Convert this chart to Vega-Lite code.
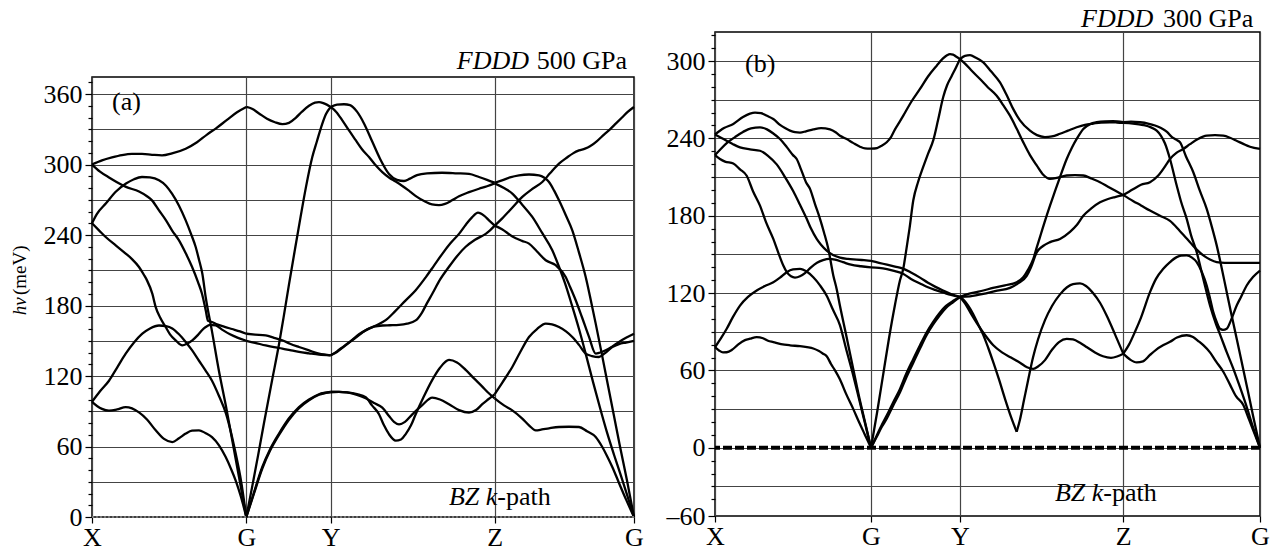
{
"$schema": "https://vega.github.io/schema/vega-lite/v6.json",
"padding": {"left": 10, "top": 5, "right": 5, "bottom": 5},
"config": {
  "view": {"stroke": "black", "strokeWidth": 1.5},
  "font": "Liberation Serif",
  "axis": {"labelFont": "Liberation Serif", "labelFontSize": 26, "labelColor": "black", "tickColor": "black", "tickWidth": 1.2, "gridColor": "#444", "gridWidth": 1.2, "domain": false, "labelOverlap": false, "labelBound": false, "labelFlush": false},
  "text": {"font": "Liberation Serif", "fontSize": 26, "color": "black"}
},
"datasets": {
"a": [
{"s":"a1","k":0,"e":300},{"s":"a1","k":10,"e":303.5},{"s":"a1","k":20,"e":306},{"s":"a1","k":30,"e":308},{"s":"a1","k":40,"e":309},{"s":"a1","k":50,"e":309},{"s":"a1","k":60,"e":308.3},{"s":"a1","k":70,"e":307.8},{"s":"a1","k":80,"e":309.5},{"s":"a1","k":93.7,"e":313.5},{"s":"a1","k":105,"e":319},{"s":"a1","k":115,"e":325.5},{"s":"a1","k":123.7,"e":330.6},{"s":"a1","k":135,"e":338},{"s":"a1","k":145,"e":344.5},{"s":"a1","k":154.3,"e":349},
{"s":"a2","k":0,"e":300},{"s":"a2","k":8,"e":294},{"s":"a2","k":17,"e":289},{"s":"a2","k":25,"e":285},{"s":"a2","k":34,"e":281},{"s":"a2","k":47,"e":277},{"s":"a2","k":55,"e":273},{"s":"a2","k":60,"e":269.5},{"s":"a2","k":67,"e":261},{"s":"a2","k":74,"e":252.5},{"s":"a2","k":80,"e":244},{"s":"a2","k":87,"e":235.4},{"s":"a2","k":94,"e":224},{"s":"a2","k":100,"e":213},{"s":"a2","k":106,"e":200},{"s":"a2","k":110,"e":190},{"s":"a2","k":113.7,"e":176},{"s":"a2","k":116,"e":167},{"s":"a2","k":120,"e":166},{"s":"a2","k":125,"e":164},{"s":"a2","k":132,"e":162},{"s":"a2","k":140,"e":160},{"s":"a2","k":148,"e":158},{"s":"a2","k":154.3,"e":156},
{"s":"a3","k":0,"e":250},{"s":"a3","k":5,"e":258},{"s":"a3","k":14,"e":267},{"s":"a3","k":24,"e":277},{"s":"a3","k":34,"e":283.8},{"s":"a3","k":42,"e":287.5},{"s":"a3","k":50,"e":289.4},{"s":"a3","k":58,"e":289},{"s":"a3","k":67,"e":286.6},{"s":"a3","k":74,"e":282},{"s":"a3","k":80,"e":275.2},{"s":"a3","k":87,"e":265},{"s":"a3","k":93.7,"e":252.5},{"s":"a3","k":99,"e":241},{"s":"a3","k":103.7,"e":229.8},{"s":"a3","k":107,"e":219},{"s":"a3","k":110.3,"e":207.2},{"s":"a3","k":113.7,"e":187},{"s":"a3","k":120,"e":158},{"s":"a3","k":127,"e":124},{"s":"a3","k":134,"e":94},{"s":"a3","k":140.3,"e":65},{"s":"a3","k":147,"e":34},{"s":"a3","k":154.3,"e":0},
{"s":"a4","k":0,"e":250},{"s":"a4","k":7,"e":244},{"s":"a4","k":13.7,"e":238.3},{"s":"a4","k":24,"e":231},{"s":"a4","k":33.7,"e":224.2},{"s":"a4","k":40,"e":219.5},{"s":"a4","k":47,"e":212.8},{"s":"a4","k":52,"e":206},{"s":"a4","k":55,"e":201.4},{"s":"a4","k":60.3,"e":190.1},{"s":"a4","k":63.7,"e":178.7},{"s":"a4","k":68,"e":170},{"s":"a4","k":73.7,"e":161.7},{"s":"a4","k":78,"e":155.5},{"s":"a4","k":83.7,"e":150.4},{"s":"a4","k":90.3,"e":146.1},{"s":"a4","k":95,"e":147.5},{"s":"a4","k":100.3,"e":150.4},{"s":"a4","k":106,"e":155},{"s":"a4","k":110,"e":159},{"s":"a4","k":113.7,"e":161.7},{"s":"a4","k":118,"e":163.5},{"s":"a4","k":123.7,"e":163},{"s":"a4","k":130,"e":159.5},{"s":"a4","k":138,"e":155.5},{"s":"a4","k":146,"e":152.5},{"s":"a4","k":154.3,"e":150},
{"s":"a5","k":0,"e":98},{"s":"a5","k":8,"e":107},{"s":"a5","k":17,"e":116},{"s":"a5","k":25,"e":127},{"s":"a5","k":33.7,"e":139},{"s":"a5","k":42,"e":148.5},{"s":"a5","k":50.3,"e":156},{"s":"a5","k":58,"e":160.5},{"s":"a5","k":67,"e":163},{"s":"a5","k":74,"e":162.5},{"s":"a5","k":80.3,"e":160.5},{"s":"a5","k":87,"e":155.5},{"s":"a5","k":93.7,"e":149},{"s":"a5","k":100,"e":142},{"s":"a5","k":107,"e":133},{"s":"a5","k":113.3,"e":125},{"s":"a5","k":120,"e":116},{"s":"a5","k":127,"e":103},{"s":"a5","k":134,"e":88},{"s":"a5","k":139,"e":72},{"s":"a5","k":143.7,"e":54},{"s":"a5","k":149,"e":31},{"s":"a5","k":154.3,"e":0},
{"s":"a6","k":0,"e":98},{"s":"a6","k":5,"e":94.5},{"s":"a6","k":10,"e":92},{"s":"a6","k":17,"e":90.5},{"s":"a6","k":25,"e":91.5},{"s":"a6","k":33.7,"e":93.6},{"s":"a6","k":40,"e":92.5},{"s":"a6","k":47,"e":89},{"s":"a6","k":55,"e":83},{"s":"a6","k":63.7,"e":73.8},{"s":"a6","k":72,"e":66.5},{"s":"a6","k":80.3,"e":63.8},{"s":"a6","k":87,"e":67},{"s":"a6","k":93.7,"e":71},{"s":"a6","k":100,"e":73.5},{"s":"a6","k":107,"e":73.8},{"s":"a6","k":113.3,"e":71.5},{"s":"a6","k":120,"e":68},{"s":"a6","k":127,"e":61},{"s":"a6","k":133.7,"e":51},{"s":"a6","k":139,"e":41},{"s":"a6","k":143.7,"e":31},{"s":"a6","k":149,"e":17},{"s":"a6","k":154.3,"e":0},
{"s":"a7","k":154.3,"e":349},{"s":"a7","k":160,"e":347.5},{"s":"a7","k":167,"e":343.5},{"s":"a7","k":175,"e":339},{"s":"a7","k":183,"e":336},{"s":"a7","k":190.3,"e":334.4},{"s":"a7","k":197,"e":335.5},{"s":"a7","k":204,"e":340},{"s":"a7","k":210,"e":345},{"s":"a7","k":217,"e":350},{"s":"a7","k":223,"e":352.7},{"s":"a7","k":227,"e":353.2},{"s":"a7","k":232,"e":352},{"s":"a7","k":238.7,"e":349},
{"s":"a8","k":154.3,"e":0},{"s":"a8","k":160,"e":25},{"s":"a8","k":166,"e":52},{"s":"a8","k":172,"e":80},{"s":"a8","k":180,"e":116},{"s":"a8","k":187,"e":147},{"s":"a8","k":192,"e":172},{"s":"a8","k":197,"e":198},{"s":"a8","k":203,"e":228},{"s":"a8","k":208.5,"e":255},{"s":"a8","k":214,"e":281},{"s":"a8","k":220.3,"e":306.4},{"s":"a8","k":225,"e":320},{"s":"a8","k":230,"e":334},{"s":"a8","k":234,"e":343},{"s":"a8","k":238.7,"e":349},
{"s":"a9","k":154.3,"e":156},{"s":"a9","k":163,"e":155.3},{"s":"a9","k":173.7,"e":154.6},{"s":"a9","k":182,"e":152.5},{"s":"a9","k":190.3,"e":150.4},{"s":"a9","k":198,"e":147.5},{"s":"a9","k":207,"e":144.7},{"s":"a9","k":217,"e":141.8},{"s":"a9","k":227,"e":139},{"s":"a9","k":238.7,"e":137.6},
{"s":"a10","k":154.3,"e":150},{"s":"a10","k":163,"e":148.3},{"s":"a10","k":173.7,"e":146},{"s":"a10","k":182,"e":144.5},{"s":"a10","k":190.3,"e":143.3},{"s":"a10","k":198,"e":142},{"s":"a10","k":207,"e":140.5},{"s":"a10","k":217,"e":139.3},{"s":"a10","k":227,"e":138.2},{"s":"a10","k":238.7,"e":137.6},
{"s":"a11","k":154.3,"e":0},{"s":"a11","k":162,"e":21},{"s":"a11","k":170.3,"e":42.6},{"s":"a11","k":178,"e":57.5},{"s":"a11","k":187,"e":71},{"s":"a11","k":197,"e":84},{"s":"a11","k":207,"e":93.6},{"s":"a11","k":217,"e":100},{"s":"a11","k":227,"e":104.5},{"s":"a11","k":238.7,"e":106.4},
{"s":"a12","k":154.3,"e":0},{"s":"a12","k":162,"e":20},{"s":"a12","k":170.3,"e":41.3},{"s":"a12","k":178,"e":56.3},{"s":"a12","k":187,"e":69.8},{"s":"a12","k":197,"e":82.8},{"s":"a12","k":207,"e":92.6},{"s":"a12","k":217,"e":99.3},{"s":"a12","k":227,"e":104},{"s":"a12","k":238.7,"e":106.4},
{"s":"a13","k":238.7,"e":349},{"s":"a13","k":245,"e":351},{"s":"a13","k":252,"e":351.3},{"s":"a13","k":258,"e":350.5},{"s":"a13","k":265,"e":345},{"s":"a13","k":272,"e":335},{"s":"a13","k":280,"e":320},{"s":"a13","k":288,"e":305},{"s":"a13","k":297,"e":292},{"s":"a13","k":305,"e":287},{"s":"a13","k":312,"e":286},{"s":"a13","k":318,"e":288},{"s":"a13","k":325,"e":291},{"s":"a13","k":335,"e":292.5},{"s":"a13","k":350,"e":293},{"s":"a13","k":365,"e":292.5},{"s":"a13","k":377,"e":292},{"s":"a13","k":387,"e":289.4},{"s":"a13","k":395,"e":287},{"s":"a13","k":402.7,"e":284.5},
{"s":"a14","k":238.7,"e":349},{"s":"a14","k":244,"e":345},{"s":"a14","k":250.3,"e":337.6},{"s":"a14","k":257,"e":329},{"s":"a14","k":263.7,"e":320.7},{"s":"a14","k":270,"e":313},{"s":"a14","k":277,"e":306.4},{"s":"a14","k":283,"e":300},{"s":"a14","k":290.3,"e":293.6},{"s":"a14","k":297,"e":289},{"s":"a14","k":303.7,"e":285.5},{"s":"a14","k":310,"e":282},{"s":"a14","k":318,"e":277},{"s":"a14","k":325,"e":272.5},{"s":"a14","k":333,"e":268.5},{"s":"a14","k":340,"e":266},{"s":"a14","k":347,"e":265.4},{"s":"a14","k":353,"e":266.5},{"s":"a14","k":360,"e":269.5},{"s":"a14","k":367,"e":273},{"s":"a14","k":377,"e":276.5},{"s":"a14","k":387,"e":279.4},{"s":"a14","k":395,"e":281.5},{"s":"a14","k":402.7,"e":284},
{"s":"a15","k":238.7,"e":137.6},{"s":"a15","k":245,"e":141},{"s":"a15","k":252,"e":145.5},{"s":"a15","k":262,"e":151.5},{"s":"a15","k":273.7,"e":158.9},{"s":"a15","k":284,"e":163},{"s":"a15","k":293.7,"e":167.5},{"s":"a15","k":303,"e":175},{"s":"a15","k":313.7,"e":184.4},{"s":"a15","k":323.7,"e":193},{"s":"a15","k":333.7,"e":204},{"s":"a15","k":342,"e":214},{"s":"a15","k":350.3,"e":224},{"s":"a15","k":358,"e":232.5},{"s":"a15","k":367,"e":241},{"s":"a15","k":374,"e":249},{"s":"a15","k":380,"e":255},{"s":"a15","k":386,"e":259},{"s":"a15","k":392,"e":256.5},{"s":"a15","k":397,"e":252.5},{"s":"a15","k":402.7,"e":248},
{"s":"a16","k":238.7,"e":137.6},{"s":"a16","k":245,"e":140.5},{"s":"a16","k":252,"e":145},{"s":"a16","k":260,"e":150.5},{"s":"a16","k":267,"e":155.5},{"s":"a16","k":275,"e":159.5},{"s":"a16","k":282,"e":162},{"s":"a16","k":290.3,"e":163},{"s":"a16","k":298,"e":163.2},{"s":"a16","k":307,"e":163.5},{"s":"a16","k":315,"e":164.5},{"s":"a16","k":323.7,"e":167.3},{"s":"a16","k":330,"e":174},{"s":"a16","k":335,"e":182},{"s":"a16","k":340.3,"e":190},{"s":"a16","k":348,"e":202},{"s":"a16","k":357,"e":213},{"s":"a16","k":365,"e":222},{"s":"a16","k":373.7,"e":230},{"s":"a16","k":383,"e":236},{"s":"a16","k":393.7,"e":241},{"s":"a16","k":398,"e":244},{"s":"a16","k":402.7,"e":248},
{"s":"a17","k":238.7,"e":106.4},{"s":"a17","k":247,"e":106.5},{"s":"a17","k":255,"e":106},{"s":"a17","k":265,"e":104.5},{"s":"a17","k":273.7,"e":102},{"s":"a17","k":280,"e":95},{"s":"a17","k":287,"e":87.5},{"s":"a17","k":292,"e":78},{"s":"a17","k":297,"e":70.5},{"s":"a17","k":303.7,"e":65},{"s":"a17","k":309,"e":66},{"s":"a17","k":313.7,"e":70.6},{"s":"a17","k":319,"e":78},{"s":"a17","k":323.7,"e":87.5},{"s":"a17","k":331,"e":101},{"s":"a17","k":340.3,"e":116.7},{"s":"a17","k":348,"e":127},{"s":"a17","k":357,"e":133.7},{"s":"a17","k":365,"e":131.5},{"s":"a17","k":373.7,"e":125.2},{"s":"a17","k":382,"e":118},{"s":"a17","k":390.3,"e":111},{"s":"a17","k":396,"e":106},{"s":"a17","k":402.7,"e":101},
{"s":"a18","k":238.7,"e":106.4},{"s":"a18","k":247,"e":106.5},{"s":"a18","k":255,"e":106},{"s":"a18","k":265,"e":104},{"s":"a18","k":273.7,"e":101},{"s":"a18","k":282,"e":97},{"s":"a18","k":290.3,"e":93.1},{"s":"a18","k":297,"e":86},{"s":"a18","k":302,"e":81},{"s":"a18","k":307,"e":78.9},{"s":"a18","k":313,"e":81},{"s":"a18","k":320.3,"e":87.4},{"s":"a18","k":330,"e":95},{"s":"a18","k":340.3,"e":101.6},{"s":"a18","k":348,"e":100},{"s":"a18","k":357,"e":96},{"s":"a18","k":367,"e":91},{"s":"a18","k":377,"e":88.9},{"s":"a18","k":384,"e":91},{"s":"a18","k":390.3,"e":96},{"s":"a18","k":396,"e":100},{"s":"a18","k":402.7,"e":104.5},
{"s":"a19","k":402.7,"e":248},{"s":"a19","k":410,"e":254},{"s":"a19","k":420,"e":263},{"s":"a19","k":430.3,"e":272.4},{"s":"a19","k":440,"e":279},{"s":"a19","k":450.3,"e":285.1},{"s":"a19","k":458,"e":292.5},{"s":"a19","k":467,"e":300.8},{"s":"a19","k":475,"e":306},{"s":"a19","k":481,"e":309.5},{"s":"a19","k":487,"e":312},{"s":"a19","k":493,"e":313.5},{"s":"a19","k":498,"e":315.5},{"s":"a19","k":505,"e":320},{"s":"a19","k":512,"e":325.5},{"s":"a19","k":518,"e":330},{"s":"a19","k":524,"e":335},{"s":"a19","k":530,"e":340},{"s":"a19","k":536,"e":345},{"s":"a19","k":542,"e":349},
{"s":"a20","k":402.7,"e":248},{"s":"a20","k":410,"e":245},{"s":"a20","k":420,"e":239},{"s":"a20","k":430,"e":235},{"s":"a20","k":437,"e":232.7},{"s":"a20","k":445,"e":226},{"s":"a20","k":453.7,"e":218.5},{"s":"a20","k":463.7,"e":214.3},{"s":"a20","k":473.7,"e":204.3},{"s":"a20","k":478,"e":196},{"s":"a20","k":483.7,"e":184.5},{"s":"a20","k":490,"e":170},{"s":"a20","k":497,"e":153.3},{"s":"a20","k":503.7,"e":139.1},{"s":"a20","k":508,"e":140},{"s":"a20","k":513.7,"e":141.9},{"s":"a20","k":520,"e":145},{"s":"a20","k":527,"e":149},{"s":"a20","k":534,"e":152.5},{"s":"a20","k":542,"e":156},
{"s":"a21","k":402.7,"e":104.5},{"s":"a21","k":410,"e":114},{"s":"a21","k":420.3,"e":127.7},{"s":"a21","k":428,"e":140},{"s":"a21","k":437,"e":153.2},{"s":"a21","k":445,"e":160},{"s":"a21","k":453.7,"e":164.6},{"s":"a21","k":460,"e":164},{"s":"a21","k":467,"e":161.7},{"s":"a21","k":474,"e":158},{"s":"a21","k":480.3,"e":153.2},{"s":"a21","k":487,"e":146.5},{"s":"a21","k":493.7,"e":139},{"s":"a21","k":500,"e":137},{"s":"a21","k":507,"e":136.2},{"s":"a21","k":513,"e":139.5},{"s":"a21","k":520.3,"e":144.7},{"s":"a21","k":527,"e":147.2},{"s":"a21","k":534,"e":148.5},{"s":"a21","k":542,"e":150},
{"s":"a22","k":402.7,"e":101},{"s":"a22","k":412,"e":95},{"s":"a22","k":420.3,"e":90.8},{"s":"a22","k":430,"e":84},{"s":"a22","k":437,"e":78},{"s":"a22","k":443.7,"e":73.8},{"s":"a22","k":450,"e":74.5},{"s":"a22","k":457,"e":75.5},{"s":"a22","k":467,"e":76.6},{"s":"a22","k":477,"e":76.8},{"s":"a22","k":487,"e":76.6},{"s":"a22","k":495,"e":73},{"s":"a22","k":503.7,"e":68.1},{"s":"a22","k":510,"e":60},{"s":"a22","k":515,"e":52},{"s":"a22","k":520.3,"e":42.6},{"s":"a22","k":527,"e":29},{"s":"a22","k":534,"e":15},{"s":"a22","k":542,"e":0},
{"s":"a23","k":402.7,"e":284.5},{"s":"a23","k":410,"e":286.5},{"s":"a23","k":418,"e":289},{"s":"a23","k":427,"e":290.8},{"s":"a23","k":437,"e":291.5},{"s":"a23","k":447,"e":290.8},{"s":"a23","k":452,"e":289},{"s":"a23","k":457,"e":285.1},{"s":"a23","k":462,"e":278},{"s":"a23","k":467,"e":269.5},{"s":"a23","k":473.7,"e":257},{"s":"a23","k":480.3,"e":244},{"s":"a23","k":487,"e":225},{"s":"a23","k":493.7,"e":204.3},{"s":"a23","k":498.7,"e":185},{"s":"a23","k":503.7,"e":164.6},{"s":"a23","k":510,"e":138},{"s":"a23","k":516,"e":112},{"s":"a23","k":522,"e":86},{"s":"a23","k":528,"e":60},{"s":"a23","k":535,"e":31},{"s":"a23","k":542,"e":0},
{"s":"a24","k":402.7,"e":284},{"s":"a24","k":412,"e":280},{"s":"a24","k":420.3,"e":275.3},{"s":"a24","k":430,"e":266},{"s":"a24","k":440.3,"e":255.4},{"s":"a24","k":450,"e":242},{"s":"a24","k":460.3,"e":227},{"s":"a24","k":467,"e":213},{"s":"a24","k":473,"e":199},{"s":"a24","k":480,"e":180},{"s":"a24","k":487,"e":160},{"s":"a24","k":494,"e":138},{"s":"a24","k":501,"e":115},{"s":"a24","k":508,"e":93},{"s":"a24","k":515,"e":72},{"s":"a24","k":522,"e":53},{"s":"a24","k":529,"e":35},{"s":"a24","k":535,"e":19},{"s":"a24","k":542,"e":0}
],
"b": [
{"s":"b1","k":0,"e":243},{"s":"b1","k":9,"e":248},{"s":"b1","k":18.3,"e":251.2},{"s":"b1","k":28,"e":256.5},{"s":"b1","k":35,"e":259.2},{"s":"b1","k":40,"e":260},{"s":"b1","k":46,"e":259.5},{"s":"b1","k":52,"e":257.5},{"s":"b1","k":58.3,"e":255},{"s":"b1","k":65,"e":250.5},{"s":"b1","k":70,"e":248},{"s":"b1","k":75,"e":246},{"s":"b1","k":80,"e":244.8},{"s":"b1","k":85,"e":244.5},{"s":"b1","k":91,"e":245.5},{"s":"b1","k":98.3,"e":247},{"s":"b1","k":106,"e":248},{"s":"b1","k":115,"e":247},{"s":"b1","k":121,"e":244.5},{"s":"b1","k":125,"e":242},{"s":"b1","k":131.7,"e":239.5},{"s":"b1","k":138,"e":236.5},{"s":"b1","k":145,"e":233.5},{"s":"b1","k":150,"e":232.2},{"s":"b1","k":156,"e":232},
{"s":"b2","k":0,"e":227},{"s":"b2","k":6,"e":232},{"s":"b2","k":12,"e":236.5},{"s":"b2","k":20,"e":241},{"s":"b2","k":28,"e":245},{"s":"b2","k":36,"e":247.8},{"s":"b2","k":45,"e":248.5},{"s":"b2","k":52,"e":247},{"s":"b2","k":58,"e":244},{"s":"b2","k":65,"e":239.5},{"s":"b2","k":72,"e":233},{"s":"b2","k":78,"e":227},{"s":"b2","k":81.7,"e":224},{"s":"b2","k":86,"e":216},{"s":"b2","k":91,"e":206},{"s":"b2","k":95,"e":200.8},{"s":"b2","k":100,"e":189},{"s":"b2","k":105,"e":177.6},{"s":"b2","k":109,"e":167},{"s":"b2","k":113.3,"e":154.4},{"s":"b2","k":118.3,"e":133.7},{"s":"b2","k":121.7,"e":123},{"s":"b2","k":125,"e":110},{"s":"b2","k":131,"e":88},{"s":"b2","k":138.3,"e":61},{"s":"b2","k":144,"e":40},{"s":"b2","k":150,"e":20},{"s":"b2","k":156,"e":0},
{"s":"b3","k":0,"e":243},{"s":"b3","k":6,"e":240.5},{"s":"b3","k":12,"e":238},{"s":"b3","k":18,"e":235.5},{"s":"b3","k":25,"e":233},{"s":"b3","k":35,"e":231.5},{"s":"b3","k":45,"e":230.4},{"s":"b3","k":53,"e":226.5},{"s":"b3","k":61.7,"e":219.8},{"s":"b3","k":70,"e":210},{"s":"b3","k":78.3,"e":199},{"s":"b3","k":85,"e":188.5},{"s":"b3","k":91.7,"e":177.6},{"s":"b3","k":96,"e":170},{"s":"b3","k":101.7,"e":162},{"s":"b3","k":106,"e":157.5},{"s":"b3","k":111.7,"e":153},{"s":"b3","k":118,"e":149.5},{"s":"b3","k":125,"e":147.5},{"s":"b3","k":133,"e":146.5},{"s":"b3","k":141.7,"e":146},{"s":"b3","k":149,"e":145.5},{"s":"b3","k":156,"e":145},
{"s":"b4","k":0,"e":227},{"s":"b4","k":5,"e":224},{"s":"b4","k":10,"e":222},{"s":"b4","k":18.3,"e":220.5},{"s":"b4","k":25,"e":216},{"s":"b4","k":31.7,"e":211},{"s":"b4","k":38,"e":199},{"s":"b4","k":45,"e":187.8},{"s":"b4","k":51,"e":175},{"s":"b4","k":58.3,"e":162},{"s":"b4","k":63,"e":152},{"s":"b4","k":68.3,"e":141.4},{"s":"b4","k":72,"e":136},{"s":"b4","k":76,"e":133},{"s":"b4","k":80,"e":132},{"s":"b4","k":85,"e":133},{"s":"b4","k":90,"e":135.5},{"s":"b4","k":96,"e":140},{"s":"b4","k":102,"e":143.5},{"s":"b4","k":108,"e":145.5},{"s":"b4","k":114,"e":146.5},{"s":"b4","k":120,"e":146},{"s":"b4","k":128,"e":144},{"s":"b4","k":136,"e":142},{"s":"b4","k":146,"e":140.8},{"s":"b4","k":156,"e":140},
{"s":"b5","k":0,"e":78},{"s":"b5","k":6,"e":85},{"s":"b5","k":11.7,"e":92.3},{"s":"b5","k":18,"e":101.5},{"s":"b5","k":25,"e":110.3},{"s":"b5","k":33,"e":117},{"s":"b5","k":41.7,"e":122},{"s":"b5","k":50,"e":125.5},{"s":"b5","k":58.3,"e":128.4},{"s":"b5","k":65,"e":132},{"s":"b5","k":71.7,"e":136.2},{"s":"b5","k":78,"e":138.3},{"s":"b5","k":85,"e":138.8},{"s":"b5","k":92,"e":136.5},{"s":"b5","k":98.3,"e":132.3},{"s":"b5","k":105,"e":126},{"s":"b5","k":111.7,"e":118},{"s":"b5","k":118,"e":107},{"s":"b5","k":125,"e":95},{"s":"b5","k":131,"e":77},{"s":"b5","k":138.3,"e":56},{"s":"b5","k":144,"e":38},{"s":"b5","k":150,"e":19},{"s":"b5","k":156,"e":0},
{"s":"b6","k":0,"e":78},{"s":"b6","k":4,"e":75.5},{"s":"b6","k":8,"e":74},{"s":"b6","k":11.7,"e":74.1},{"s":"b6","k":17,"e":76},{"s":"b6","k":23,"e":80},{"s":"b6","k":30,"e":83.5},{"s":"b6","k":35,"e":84.6},{"s":"b6","k":41.7,"e":85.9},{"s":"b6","k":48,"e":85},{"s":"b6","k":53,"e":83},{"s":"b6","k":58.3,"e":82},{"s":"b6","k":66,"e":80.5},{"s":"b6","k":75,"e":79.5},{"s":"b6","k":85,"e":78.8},{"s":"b6","k":92,"e":78},{"s":"b6","k":98.3,"e":77},{"s":"b6","k":104,"e":75},{"s":"b6","k":108,"e":73},{"s":"b6","k":111.7,"e":71},{"s":"b6","k":116,"e":65},{"s":"b6","k":120,"e":60},{"s":"b6","k":125,"e":53},{"s":"b6","k":131,"e":42},{"s":"b6","k":138.3,"e":30},{"s":"b6","k":144,"e":20},{"s":"b6","k":150,"e":10},{"s":"b6","k":156,"e":0},
{"s":"b7","k":156,"e":232},{"s":"b7","k":162,"e":232.5},{"s":"b7","k":166,"e":234},{"s":"b7","k":171.7,"e":237},{"s":"b7","k":176,"e":241},{"s":"b7","k":180,"e":247},{"s":"b7","k":184,"e":252},{"s":"b7","k":188.3,"e":257.6},{"s":"b7","k":196,"e":268},{"s":"b7","k":205,"e":278.3},{"s":"b7","k":213,"e":288},{"s":"b7","k":221.7,"e":296.4},{"s":"b7","k":228,"e":302},{"s":"b7","k":232,"e":304.5},{"s":"b7","k":235,"e":305.4},{"s":"b7","k":238,"e":305},{"s":"b7","k":241,"e":303.5},{"s":"b7","k":245,"e":301.5},
{"s":"b8","k":156,"e":0},{"s":"b8","k":162,"e":27},{"s":"b8","k":168,"e":56},{"s":"b8","k":174,"e":85},{"s":"b8","k":180,"e":111},{"s":"b8","k":185,"e":130},{"s":"b8","k":188.3,"e":139},{"s":"b8","k":191,"e":152},{"s":"b8","k":194.5,"e":170},{"s":"b8","k":198.3,"e":192},{"s":"b8","k":203,"e":206},{"s":"b8","k":208.3,"e":218},{"s":"b8","k":213,"e":228},{"s":"b8","k":218.3,"e":238.6},{"s":"b8","k":223,"e":254},{"s":"b8","k":228.3,"e":272.3},{"s":"b8","k":232,"e":281},{"s":"b8","k":236.7,"e":288.4},{"s":"b8","k":241,"e":295},{"s":"b8","k":245,"e":301.5},
{"s":"b9","k":156,"e":145},{"s":"b9","k":164,"e":143.5},{"s":"b9","k":172,"e":142},{"s":"b9","k":180,"e":140.5},{"s":"b9","k":188,"e":139},{"s":"b9","k":196,"e":136},{"s":"b9","k":205,"e":132},{"s":"b9","k":213,"e":128},{"s":"b9","k":220,"e":125},{"s":"b9","k":228,"e":122},{"s":"b9","k":236,"e":119.3},{"s":"b9","k":245,"e":117},
{"s":"b10","k":156,"e":140},{"s":"b10","k":164,"e":139.5},{"s":"b10","k":172,"e":138.5},{"s":"b10","k":180,"e":137},{"s":"b10","k":188,"e":135},{"s":"b10","k":196,"e":131},{"s":"b10","k":205,"e":127.5},{"s":"b10","k":213,"e":124.5},{"s":"b10","k":220,"e":122.5},{"s":"b10","k":228,"e":120.5},{"s":"b10","k":236,"e":118.5},{"s":"b10","k":245,"e":117},
{"s":"b11","k":156,"e":0},{"s":"b11","k":162,"e":10},{"s":"b11","k":167,"e":18},{"s":"b11","k":171.7,"e":25},{"s":"b11","k":178,"e":35},{"s":"b11","k":185,"e":45.7},{"s":"b11","k":191,"e":57},{"s":"b11","k":198.3,"e":68.9},{"s":"b11","k":205,"e":79.5},{"s":"b11","k":211.7,"e":89.6},{"s":"b11","k":218,"e":97.5},{"s":"b11","k":225,"e":105},{"s":"b11","k":231,"e":110},{"s":"b11","k":238.3,"e":114},{"s":"b11","k":245,"e":116.9},
{"s":"b12","k":156,"e":0},{"s":"b12","k":162,"e":9},{"s":"b12","k":167,"e":16.5},{"s":"b12","k":171.7,"e":22.5},{"s":"b12","k":178,"e":32.5},{"s":"b12","k":185,"e":43},{"s":"b12","k":191,"e":54},{"s":"b12","k":198.3,"e":66},{"s":"b12","k":205,"e":77},{"s":"b12","k":211.7,"e":87.5},{"s":"b12","k":218,"e":95.5},{"s":"b12","k":225,"e":103},{"s":"b12","k":231,"e":108.5},{"s":"b12","k":238.3,"e":113},{"s":"b12","k":245,"e":116.9},
{"s":"b13","k":245,"e":301.5},{"s":"b13","k":250,"e":304},{"s":"b13","k":255,"e":304.5},{"s":"b13","k":261,"e":302.5},{"s":"b13","k":268.3,"e":299},{"s":"b13","k":276,"e":292},{"s":"b13","k":285,"e":283.4},{"s":"b13","k":292,"e":273},{"s":"b13","k":298.3,"e":262.7},{"s":"b13","k":305,"e":254},{"s":"b13","k":315,"e":246},{"s":"b13","k":322,"e":242.5},{"s":"b13","k":330,"e":241},{"s":"b13","k":337,"e":241.5},{"s":"b13","k":345,"e":243.6},{"s":"b13","k":353,"e":246},{"s":"b13","k":361.7,"e":248.6},{"s":"b13","k":370,"e":250.5},{"s":"b13","k":378.3,"e":251.5},{"s":"b13","k":386,"e":252.3},{"s":"b13","k":395,"e":252.5},{"s":"b13","k":402,"e":252.3},{"s":"b13","k":408.3,"e":252},
{"s":"b14","k":245,"e":301.5},{"s":"b14","k":250,"e":298},{"s":"b14","k":256,"e":293},{"s":"b14","k":265,"e":286},{"s":"b14","k":273,"e":279.5},{"s":"b14","k":281.7,"e":273},{"s":"b14","k":288,"e":266},{"s":"b14","k":295,"e":257.6},{"s":"b14","k":302,"e":247},{"s":"b14","k":308.3,"e":236.9},{"s":"b14","k":315,"e":227},{"s":"b14","k":321.7,"e":219},{"s":"b14","k":328,"e":212},{"s":"b14","k":335,"e":208.6},{"s":"b14","k":343,"e":209.5},{"s":"b14","k":351.7,"e":211.2},{"s":"b14","k":360,"e":211.5},{"s":"b14","k":368.3,"e":211.2},{"s":"b14","k":376,"e":209},{"s":"b14","k":385,"e":206},{"s":"b14","k":393,"e":202.5},{"s":"b14","k":400,"e":199.5},{"s":"b14","k":408.3,"e":196},
{"s":"b15","k":245,"e":117},{"s":"b15","k":252,"e":119},{"s":"b15","k":260,"e":120.5},{"s":"b15","k":268.3,"e":122},{"s":"b15","k":278,"e":124},{"s":"b15","k":290,"e":126},{"s":"b15","k":301.7,"e":128.4},{"s":"b15","k":308,"e":132},{"s":"b15","k":313,"e":138},{"s":"b15","k":318.3,"e":146.5},{"s":"b15","k":322,"e":156},{"s":"b15","k":326,"e":166},{"s":"b15","k":330,"e":176},{"s":"b15","k":335,"e":187.8},{"s":"b15","k":340,"e":199},{"s":"b15","k":345,"e":210},{"s":"b15","k":351.7,"e":224},{"s":"b15","k":357,"e":233},{"s":"b15","k":362,"e":240},{"s":"b15","k":368.3,"e":247.3},{"s":"b15","k":375,"e":251},{"s":"b15","k":381.7,"e":252.5},{"s":"b15","k":390,"e":253.2},{"s":"b15","k":398,"e":253.3},{"s":"b15","k":408.3,"e":252.5},
{"s":"b16","k":245,"e":117},{"s":"b16","k":255,"e":117.5},{"s":"b16","k":268.3,"e":119.3},{"s":"b16","k":280,"e":121.5},{"s":"b16","k":295,"e":124},{"s":"b16","k":303,"e":127.5},{"s":"b16","k":311.7,"e":133.3},{"s":"b16","k":316,"e":140},{"s":"b16","k":321.7,"e":151.6},{"s":"b16","k":328,"e":156.5},{"s":"b16","k":335,"e":159.5},{"s":"b16","k":345,"e":162},{"s":"b16","k":355,"e":167.5},{"s":"b16","k":362,"e":173},{"s":"b16","k":368.3,"e":180},{"s":"b16","k":376,"e":185.5},{"s":"b16","k":385,"e":190.4},{"s":"b16","k":393,"e":193},{"s":"b16","k":400,"e":194.5},{"s":"b16","k":408.3,"e":196},
{"s":"b17a","k":245,"e":117},{"s":"b17a","k":249,"e":114.5},{"s":"b17a","k":253,"e":110.5},{"s":"b17a","k":258,"e":104},{"s":"b17a","k":263,"e":96},{"s":"b17a","k":268,"e":88},{"s":"b17a","k":273,"e":78},{"s":"b17a","k":278,"e":67},{"s":"b17a","k":284,"e":53},{"s":"b17a","k":290,"e":38},{"s":"b17a","k":296,"e":24},{"s":"b17a","k":301.7,"e":12.4},
{"s":"b17b","k":301.7,"e":12.4},{"s":"b17b","k":305,"e":22},{"s":"b17b","k":309,"e":37},{"s":"b17b","k":313,"e":52},{"s":"b17b","k":318,"e":70},{"s":"b17b","k":323,"e":84},{"s":"b17b","k":330,"e":99},{"s":"b17b","k":337,"e":110},{"s":"b17b","k":345,"e":119},{"s":"b17b","k":352,"e":124.5},{"s":"b17b","k":358,"e":127},{"s":"b17b","k":365,"e":127.5},{"s":"b17b","k":371,"e":125.5},{"s":"b17b","k":378,"e":120},{"s":"b17b","k":385,"e":112.5},{"s":"b17b","k":392,"e":102},{"s":"b17b","k":400,"e":88},{"s":"b17b","k":408.3,"e":73},
{"s":"b18","k":245,"e":117},{"s":"b18","k":250,"e":112},{"s":"b18","k":256,"e":104},{"s":"b18","k":262,"e":96.5},{"s":"b18","k":270,"e":87.5},{"s":"b18","k":278.3,"e":79.5},{"s":"b18","k":287,"e":74},{"s":"b18","k":296,"e":70},{"s":"b18","k":305,"e":66},{"s":"b18","k":312,"e":62.5},{"s":"b18","k":318.3,"e":61.2},{"s":"b18","k":323,"e":63},{"s":"b18","k":330,"e":68},{"s":"b18","k":337,"e":76},{"s":"b18","k":344,"e":82},{"s":"b18","k":351.7,"e":84.5},{"s":"b18","k":358,"e":84},{"s":"b18","k":365,"e":81.5},{"s":"b18","k":372,"e":78},{"s":"b18","k":380,"e":74},{"s":"b18","k":388,"e":71},{"s":"b18","k":396,"e":69.8},{"s":"b18","k":402,"e":70.8},{"s":"b18","k":408.3,"e":73},
{"s":"b19","k":408.3,"e":196},{"s":"b19","k":418,"e":200.5},{"s":"b19","k":426,"e":204},{"s":"b19","k":435,"e":206},{"s":"b19","k":443,"e":211},{"s":"b19","k":451.7,"e":220.2},{"s":"b19","k":455,"e":224},{"s":"b19","k":461.7,"e":229},{"s":"b19","k":468.3,"e":231.8},{"s":"b19","k":475,"e":235.5},{"s":"b19","k":483,"e":239.5},{"s":"b19","k":491.7,"e":242.1},{"s":"b19","k":500,"e":242.5},{"s":"b19","k":508.3,"e":242.1},{"s":"b19","k":515,"e":240.5},{"s":"b19","k":522,"e":238},{"s":"b19","k":528.3,"e":235.7},{"s":"b19","k":535,"e":233.5},{"s":"b19","k":545,"e":231.8},
{"s":"b20","k":408.3,"e":196},{"s":"b20","k":418,"e":191.5},{"s":"b20","k":426,"e":188},{"s":"b20","k":435,"e":184},{"s":"b20","k":445,"e":180},{"s":"b20","k":455,"e":176},{"s":"b20","k":465,"e":168},{"s":"b20","k":475,"e":159.5},{"s":"b20","k":482,"e":153.5},{"s":"b20","k":488.3,"e":149.2},{"s":"b20","k":495,"e":146},{"s":"b20","k":501.7,"e":144},{"s":"b20","k":510,"e":143.5},{"s":"b20","k":520,"e":143.5},{"s":"b20","k":530,"e":143.5},{"s":"b20","k":545,"e":143.5},
{"s":"b21","k":408.3,"e":252},{"s":"b21","k":418,"e":251.5},{"s":"b21","k":428.3,"e":250.3},{"s":"b21","k":436,"e":248.5},{"s":"b21","k":441.7,"e":246},{"s":"b21","k":446,"e":242},{"s":"b21","k":450,"e":236},{"s":"b21","k":455,"e":224},{"s":"b21","k":461.7,"e":203.4},{"s":"b21","k":466,"e":191},{"s":"b21","k":471.7,"e":177.6},{"s":"b21","k":476,"e":165},{"s":"b21","k":481.7,"e":151.7},{"s":"b21","k":488,"e":132},{"s":"b21","k":495,"e":110.4},{"s":"b21","k":501,"e":96},{"s":"b21","k":505,"e":88},{"s":"b21","k":511.7,"e":74.2},{"s":"b21","k":518,"e":62},{"s":"b21","k":525,"e":47},{"s":"b21","k":532,"e":31},{"s":"b21","k":538,"e":16},{"s":"b21","k":545,"e":0},
{"s":"b22","k":408.3,"e":252.5},{"s":"b22","k":416,"e":253},{"s":"b22","k":425,"e":252.5},{"s":"b22","k":433,"e":251.5},{"s":"b22","k":440,"e":250},{"s":"b22","k":446,"e":248},{"s":"b22","k":452,"e":245},{"s":"b22","k":457,"e":241},{"s":"b22","k":461,"e":239},{"s":"b22","k":465,"e":237},{"s":"b22","k":471,"e":226},{"s":"b22","k":478.3,"e":213.7},{"s":"b22","k":485,"e":199},{"s":"b22","k":491.7,"e":185.3},{"s":"b22","k":497,"e":171},{"s":"b22","k":501.7,"e":157},{"s":"b22","k":506,"e":142},{"s":"b22","k":511.7,"e":120.8},{"s":"b22","k":516,"e":105},{"s":"b22","k":521.7,"e":84.6},{"s":"b22","k":526,"e":69},{"s":"b22","k":531.7,"e":48.4},{"s":"b22","k":538,"e":25},{"s":"b22","k":545,"e":0},
{"s":"b23","k":408.3,"e":73},{"s":"b23","k":414,"e":80},{"s":"b23","k":420,"e":90},{"s":"b23","k":426,"e":101},{"s":"b23","k":435,"e":120.7},{"s":"b23","k":441,"e":131},{"s":"b23","k":448.3,"e":138.8},{"s":"b23","k":455,"e":144},{"s":"b23","k":461.7,"e":147.9},{"s":"b23","k":466,"e":149},{"s":"b23","k":471.7,"e":149.2},{"s":"b23","k":477,"e":147.5},{"s":"b23","k":481.7,"e":144},{"s":"b23","k":487,"e":136},{"s":"b23","k":491.7,"e":125.9},{"s":"b23","k":495,"e":116},{"s":"b23","k":498.3,"e":105.2},{"s":"b23","k":502,"e":97},{"s":"b23","k":505,"e":92.3},{"s":"b23","k":508,"e":91.5},{"s":"b23","k":511.7,"e":92.3},{"s":"b23","k":516,"e":99},{"s":"b23","k":521.7,"e":110.4},{"s":"b23","k":526,"e":117},{"s":"b23","k":531.7,"e":125.9},{"s":"b23","k":538,"e":132.5},{"s":"b23","k":545,"e":137.5},
{"s":"b24","k":408.3,"e":73},{"s":"b24","k":415,"e":68.5},{"s":"b24","k":421.7,"e":66.2},{"s":"b24","k":428,"e":67},{"s":"b24","k":435,"e":72},{"s":"b24","k":441,"e":76},{"s":"b24","k":448,"e":79.5},{"s":"b24","k":455,"e":82.2},{"s":"b24","k":462,"e":85.5},{"s":"b24","k":471.7,"e":87.3},{"s":"b24","k":478,"e":86},{"s":"b24","k":483,"e":83},{"s":"b24","k":488.3,"e":79.6},{"s":"b24","k":495,"e":74},{"s":"b24","k":501,"e":67},{"s":"b24","k":508.3,"e":59},{"s":"b24","k":515,"e":49},{"s":"b24","k":521,"e":40},{"s":"b24","k":528.3,"e":33.2},{"s":"b24","k":534,"e":22},{"s":"b24","k":540,"e":10},{"s":"b24","k":545,"e":0}
]
},
"spacing": 20,
"hconcat": [
 {"spacing": 0, "vconcat": [
   {"width": 542, "height": 4, "data": {"values": [{}]}, "mark": {"type": "text", "text": " "}, "view": {"stroke": null}},
   {"width": 542, "height": 440,
    "layer": [
     {"data": {"name": "a"},
      "mark": {"type": "line", "stroke": "black", "strokeWidth": 2.3, "interpolate": "monotone"},
      "encoding": {
        "x": {"field": "k", "type": "quantitative", "scale": {"domain": [0, 542], "nice": false, "zero": false},
              "axis": {"title": null, "values": [0, 154.3, 238.7, 402.7, 542], "tickCount": 1000, "labelOverlap": false, "labelExpr": "datum.value < 1 ? 'X' : datum.value < 200 ? 'G' : datum.value < 300 ? 'Y' : datum.value < 500 ? 'Z' : 'G'", "grid": true, "tickSize": 6, "labelPadding": 1}},
        "y": {"field": "e", "type": "quantitative", "scale": {"domain": [0, 374.5], "nice": false, "zero": false},
              "axis": {"title": null, "format": "d", "tickCount": 1000, "labelOverlap": false, "values": [0,10,20,30,40,50,60,70,80,90,100,110,120,130,140,150,160,170,180,190,200,210,220,230,240,250,260,270,280,290,300,310,320,330,340,350,360,370],
                       "labelExpr": "datum.value % 60 === 0 ? datum.label : ''", "grid": true,
                       "gridOpacity": {"condition": {"test": "datum.value % 30 === 0 && datum.value > 0", "value": 1}, "value": 0},
                       "tickSize": {"condition": {"test": "datum.value % 60 === 0", "value": 7}, "value": 4}, "labelPadding": 3}},
        "detail": {"field": "s"}}},
     {"data": {"values": [{}]}, "mark": {"type": "rule", "stroke": "#777", "strokeWidth": 2, "strokeDash": [2, 2]}, "encoding": {"y": {"datum": 0}}},
     {"data": {"values": [{}]}, "mark": {"type": "text", "text": "(a)", "align": "left", "baseline": "middle"}, "encoding": {"x": {"datum": 20}, "y": {"datum": 353}}},
     {"data": {"values": [{}]}, "mark": {"type": "text", "text": "BZ k", "fontStyle": "italic", "align": "right", "baseline": "middle"}, "encoding": {"x": {"datum": 405.3}, "y": {"datum": 17}}},
     {"data": {"values": [{}]}, "mark": {"type": "text", "text": "-path", "align": "left", "baseline": "middle"}, "encoding": {"x": {"datum": 405.3}, "y": {"datum": 17}}},
     {"data": {"values": [{}]}, "mark": {"type": "text", "text": "FDDD", "fontStyle": "italic", "align": "right", "baseline": "middle", "clip": false}, "encoding": {"x": {"datum": 437}, "y": {"datum": 387.8}}},
     {"data": {"values": [{}]}, "mark": {"type": "text", "text": "500 GPa", "align": "right", "baseline": "middle", "clip": false}, "encoding": {"x": {"datum": 535}, "y": {"datum": 387.8}}},
     {"data": {"values": [{}]}, "mark": {"type": "text", "text": "(meV)", "angle": 270, "align": "center", "baseline": "middle", "fontSize": 19, "clip": false}, "encoding": {"x": {"datum": -72}, "y": {"datum": 210}}},
     {"data": {"values": [{}]}, "mark": {"type": "text", "text": "hν", "fontStyle": "italic", "angle": 270, "align": "center", "baseline": "middle", "fontSize": 19, "clip": false}, "encoding": {"x": {"datum": -72}, "y": {"datum": 179.3}}}
    ]}
 ]},
 {"width": 545, "height": 484,
  "layer": [
   {"data": {"name": "b"},
    "mark": {"type": "line", "stroke": "black", "strokeWidth": 2.3, "interpolate": "monotone"},
    "encoding": {
      "x": {"field": "k", "type": "quantitative", "scale": {"domain": [0, 545], "nice": false, "zero": false},
            "axis": {"title": null, "values": [0, 156, 245, 408.3, 545], "tickCount": 1000, "labelOverlap": false, "labelExpr": "datum.value < 1 ? 'X' : datum.value < 200 ? 'G' : datum.value < 300 ? 'Y' : datum.value < 500 ? 'Z' : 'G'", "grid": true, "tickSize": 6, "labelPadding": 1}},
      "y": {"field": "e", "type": "quantitative", "scale": {"domain": [-52.9, 322.5], "nice": false, "zero": false},
            "axis": {"title": null, "format": "d", "tickCount": 1000, "labelOverlap": false, "values": [-52.9,-40,-30,-20,-10,0,10,20,30,40,50,60,70,80,90,100,110,120,130,140,150,160,170,180,190,200,210,220,230,240,250,260,270,280,290,300,310,320],
                     "labelExpr": "datum.value < -50 ? '–60' : (datum.value % 60 === 0 ? datum.label : '')", "grid": true,
                     "gridOpacity": {"condition": {"test": "datum.value % 30 === 0", "value": 1}, "value": 0},
                     "tickSize": {"condition": {"test": "datum.value % 60 === 0 || datum.value < -50", "value": 7}, "value": 4}, "labelPadding": 3}},
      "detail": {"field": "s"}}},
   {"data": {"values": [{}]}, "mark": {"type": "rule", "stroke": "black", "strokeWidth": 4, "strokeDash": [9, 3]}, "encoding": {"y": {"datum": 0}}},
   {"data": {"values": [{}]}, "mark": {"type": "text", "text": "(b)", "align": "left", "baseline": "middle"}, "encoding": {"x": {"datum": 30}, "y": {"datum": 297.7}}},
   {"data": {"values": [{}]}, "mark": {"type": "text", "text": "BZ k", "fontStyle": "italic", "align": "right", "baseline": "middle"}, "encoding": {"x": {"datum": 388.3}, "y": {"datum": -34.9}}},
   {"data": {"values": [{}]}, "mark": {"type": "text", "text": "-path", "align": "left", "baseline": "middle"}, "encoding": {"x": {"datum": 388.3}, "y": {"datum": -34.9}}},
   {"data": {"values": [{}]}, "mark": {"type": "text", "text": "FDDD", "fontStyle": "italic", "align": "right", "baseline": "middle", "clip": false}, "encoding": {"x": {"datum": 438.3}, "y": {"datum": 332.6}}},
   {"data": {"values": [{}]}, "mark": {"type": "text", "text": "300 GPa", "align": "right", "baseline": "middle", "clip": false}, "encoding": {"x": {"datum": 538.3}, "y": {"datum": 332.6}}}
  ]}
]
}
